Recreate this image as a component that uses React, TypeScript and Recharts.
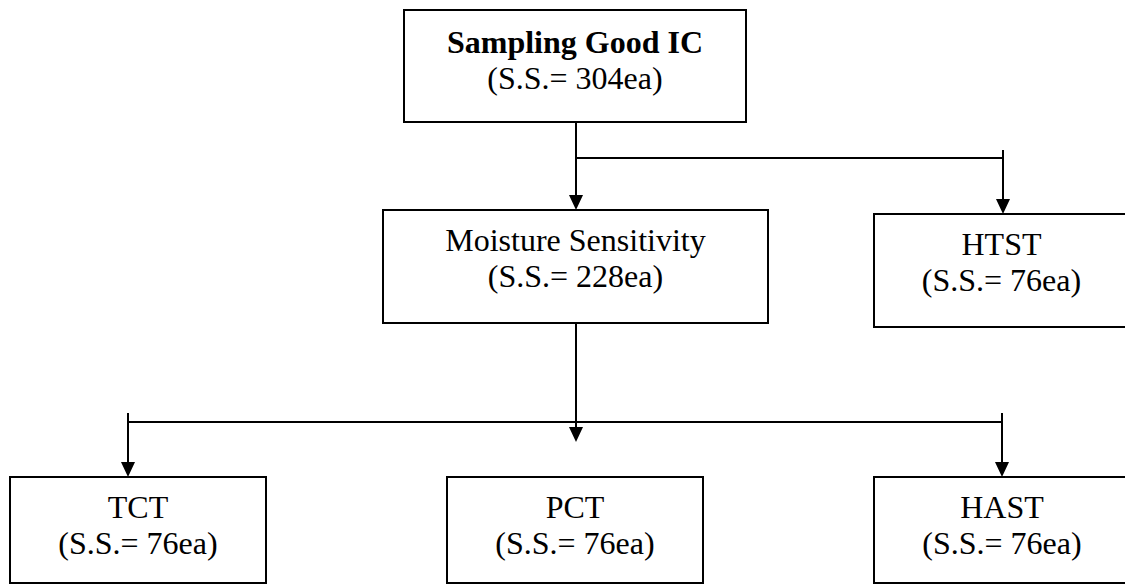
import React from "react";
import { ComposedChart, XAxis, YAxis, ReferenceArea, ReferenceLine, Scatter } from "recharts";

// flow nodes (diagram units = page pixels)
const NODE_TITLES = ["Sampling Good IC", "Moisture Sensitivity", "HTST", "TCT", "PCT", "HAST"];
const NODE_SAMPLES = [304, 228, 76, 76, 76, 76];
const NODE_LEFT = [404, 383, 874, 10, 447, 874];
const NODE_RIGHT = [746, 768, 1129, 266, 703, 1130];
const NODE_TOP = [10, 210, 214, 477, 477, 477];
const NODE_BOTTOM = [122, 323, 327, 583, 583, 583];

// connector segments [x1, y1, x2, y2]
const LINKS = [
  [576, 122, 576, 204],
  [576, 158, 1003, 158],
  [1003, 150, 1003, 208],
  [576, 323, 576, 436],
  [128, 422, 1002, 422],
  [128, 413, 128, 471],
  [1002, 413, 1002, 471],
];

// arrow tips
const ARROW_X = [576, 1003, 576, 128, 1002];
const ARROW_Y = [210, 214, 442, 477, 477];

const W = 1125;
const H = 586;
const FONT = '"Liberation Serif", "Times New Roman", serif';

const arrows = ARROW_X.map((x, i) => ({ x, y: ARROW_Y[i] }));

function Arrowhead(props: any) {
  const { cx, cy } = props;
  return <path d={`M${cx - 7},${cy - 15} L${cx + 7},${cy - 15} L${cx},${cy} Z`} fill="#000" />;
}

function boxLabel(title: string, n: number, bold: boolean) {
  return (props: any) => {
    const { x, y, width } = props.viewBox;
    const cx = x + width / 2;
    return (
      <g fontFamily={FONT} fontSize={32} fill="#000" textAnchor="middle">
        <text x={cx} y={y + (bold ? 43 : 41)} fontWeight={bold ? "bold" : "normal"}>
          {title}
        </text>
        <text x={cx} y={y + (bold ? 79 : 77)}>{`(S.S.= ${n}ea)`}</text>
      </g>
    );
  };
}

export default function App() {
  return (
    <div style={{ position: "absolute", left: 0, top: 0, width: W, height: H, background: "#fff" }}>
      <ComposedChart width={W} height={H} data={arrows} margin={{ top: 0, right: 0, bottom: 0, left: 0 }}>
        <XAxis type="number" dataKey="x" domain={[0, W]} hide />
        <YAxis type="number" dataKey="y" domain={[0, H]} reversed hide />
        {LINKS.map(([x1, y1, x2, y2], i) => (
          <ReferenceLine
            key={`l${i}`}
            segment={[{ x: x1, y: y1 }, { x: x2, y: y2 }]}
            stroke="#000"
            strokeWidth={2}
            ifOverflow="visible"
          />
        ))}
        {NODE_TITLES.map((t, i) => (
          <ReferenceArea
            key={`n${i}`}
            x1={NODE_LEFT[i]}
            x2={NODE_RIGHT[i]}
            y1={NODE_TOP[i]}
            y2={NODE_BOTTOM[i]}
            fill="#fff"
            fillOpacity={1}
            stroke="#000"
            strokeWidth={2}
            ifOverflow="visible"
            label={boxLabel(t, NODE_SAMPLES[i], i === 0)}
          />
        ))}
        <Scatter data={arrows} shape={<Arrowhead />} isAnimationActive={false} />
      </ComposedChart>
    </div>
  );
}
